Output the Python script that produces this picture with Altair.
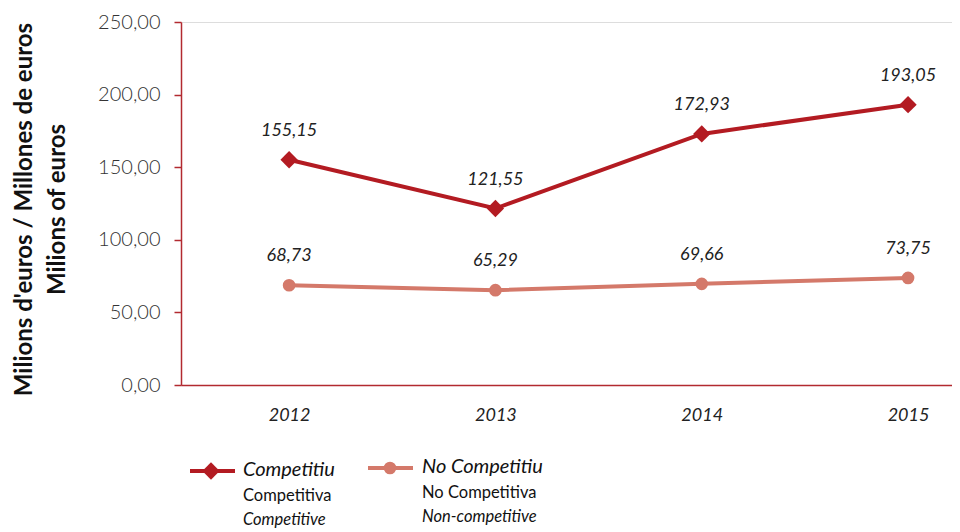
import altair as alt
import pandas as pd

years = [2012, 2013, 2014, 2015]
competitiu = [155.15, 121.55, 172.93, 193.05]
no_competitiu = [68.73, 65.29, 69.66, 73.75]
series_names = ["Competitiu", "No Competitiu"]
colors = ["#b31b22", "#d4796a"]
shapes = ["diamond", "circle"]

rows = []
for y, a, b in zip(years, competitiu, no_competitiu):
    rows.append({"year": y, "value": a, "serie": series_names[0]})
    rows.append({"year": y, "value": b, "serie": series_names[1]})
df = pd.DataFrame(rows)

FONT = "Lato"
W, H = 771, 363

x = alt.X("year:Q", scale=alt.Scale(domain=[2011.476, 2015.213], nice=False, zero=False),
          axis=alt.Axis(values=years, format="d", title=None, grid=False, ticks=False,
                        domainColor="#b22a30", domainWidth=1.5, labelFont=FONT,
                        labelFontStyle="italic", labelFontSize=18, labelColor="#222",
                        labelPadding=21))
y = alt.Y("value:Q", scale=alt.Scale(domain=[0, 250], nice=False),
          axis=alt.Axis(values=[0, 50, 100, 150, 200, 250], grid=False,
                        labelExpr="replace(format(datum.value, '.2f'), '.', ',')",
                        domainColor="#b22a30", domainWidth=1.5, tickColor="#b22a30",
                        tickSize=7, tickWidth=1.5, labelFont=FONT, labelFontSize=20,
                        labelColor="#333", labelFontWeight=300, labelPadding=14,
                        title=["Milions d'euros / Millones de euros", "Milions of euros"],
                        titleFont=FONT, titleFontSize=24, titleFontWeight="bold",
                        titleColor="#111", titleAngle=-90, titleX=-169, titleY=187,
                        titleBaseline="top", titleAlign="center", titleLineHeight=33))

color = alt.Color("serie:N", scale=alt.Scale(domain=series_names, range=colors), legend=None)

base = alt.Chart(df)
lines = base.mark_line(strokeWidth=4).encode(x=x, y=y, color=color)
pts_c = base.transform_filter(alt.datum.serie == series_names[0]).mark_point(
    shape="diamond", filled=True, size=300, opacity=1).encode(x=x, y=y, color=color)
pts_n = base.transform_filter(alt.datum.serie == series_names[1]).mark_point(
    shape="circle", filled=True, size=160, opacity=1).encode(x=x, y=y, color=color)
labels = base.transform_calculate(
    lab="replace(format(datum.value, '.2f'), '.', ',')").mark_text(
    font=FONT, fontStyle="italic", fontSize=18, color="#222", dy=-29).encode(
    x=x, y=y, text="lab:N")

# Legend (custom, three-line labels)
leg_df = pd.DataFrame({"k": [0]})
lg = alt.Chart(leg_df)
legend_layers = []
leg_specs = [
    (9, 54, 30, 449, 62, ["Competitiu", "Competitiva", "Competitive"], colors[0], "diamond", 300),
    (187, 232, 209, 446, 241, ["No Competitiu", "No Competitiva", "Non-competitive"], colors[1], "circle", 160),
]
for x1, x2, xm, yl, xt, texts, col, shp, sz in leg_specs:
    legend_layers.append(lg.mark_rule(strokeWidth=4, color=col).encode(
        x=alt.value(x1), x2=alt.value(x2), y=alt.value(yl)))
    legend_layers.append(lg.mark_point(shape=shp, filled=True, size=sz, color=col, opacity=1).encode(
        x=alt.value(xm), y=alt.value(yl)))
    legend_layers.append(lg.mark_text(align="left", baseline="middle", font=FONT, fontSize=20,
                                      fontStyle="italic", color="#111").encode(
        x=alt.value(xt), y=alt.value(yl - 1), text=alt.value(texts[0])))
    legend_layers.append(lg.mark_text(align="left", baseline="middle", font=FONT, fontSize=16.5,
                                      color="#111").encode(
        x=alt.value(xt), y=alt.value(yl + 25), text=alt.value(texts[1])))
    legend_layers.append(lg.mark_text(align="left", baseline="middle", font=FONT, fontSize=16.5,
                                      fontStyle="italic", color="#111").encode(
        x=alt.value(xt), y=alt.value(yl + 49), text=alt.value(texts[2])))

chart = alt.layer(lines, pts_c, pts_n, labels, *legend_layers).properties(
    width=W, height=H, autosize=alt.AutoSizeParams(type="none"),
    padding={"left": 173, "top": 14, "right": 0, "bottom": 145}
).configure_view(stroke=None).configure(background="white")

chart.save("out.html", embed_options={"renderer": "svg", "actions": False})
